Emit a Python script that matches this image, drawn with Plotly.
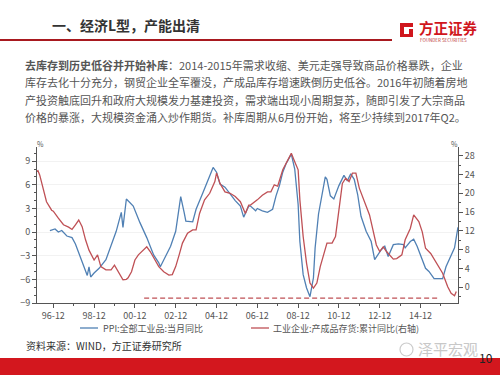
import plotly.graph_objects as go

# ---------------- data ----------------
ppi_dates = ["1996-10", "1996-11", "1997-01", "1997-03", "1997-05", "1997-08", "1997-11",
             "1998-01", "1998-04", "1998-07", "1998-08", "1998-09", "1998-10", "1998-12",
             "1999-03", "1999-07", "1999-10", "2000-01", "2000-04", "2000-05", "2000-07",
             "2000-11", "2001-03", "2001-07", "2001-11", "2002-02", "2002-03", "2002-06",
             "2002-09", "2002-12", "2003-02", "2003-03", "2003-05", "2003-06", "2003-10",
             "2003-12", "2004-04", "2004-07", "2004-10", "2004-12", "2005-02", "2005-05",
             "2005-08", "2005-11", "2006-02", "2006-04", "2006-07", "2006-08", "2006-11",
             "2006-12", "2007-03", "2007-06", "2007-09", "2007-11", "2008-01", "2008-03",
             "2008-05", "2008-08", "2008-10", "2008-12", "2009-01", "2009-03", "2009-05",
             "2009-07", "2009-09", "2009-10", "2009-12", "2010-02", "2010-04", "2010-05",
             "2010-07", "2010-09", "2010-12", "2011-03", "2011-05", "2011-07", "2011-09",
             "2011-11", "2012-01", "2012-04", "2012-07", "2012-09", "2012-11", "2013-01",
             "2013-03", "2013-05", "2013-08", "2013-11", "2014-02", "2014-03", "2014-06",
             "2014-08", "2014-10", "2015-01", "2015-03", "2015-05", "2015-08", "2015-11",
             "2016-01", "2016-03", "2016-06", "2016-08", "2016-10"]
ppi_vals = [0.2, 0.3, 0.4, 0.0, 0.2, -0.5, -0.7,
            -1.5, -3.3, -5.0, -5.5, -4.4, -5.7, -5.2,
            -4.6, -3.5, -1.8, 0.1, 2.5, 0.6, 4.2,
            3.3, 1.2, -0.7, -2.9, -3.9, -4.4, -3.1,
            -1.8, 0.1, 3.1, 4.5, 2.5, 1.4, 1.3,
            2.9, 5.0, 6.5, 8.2, 7.6, 6.1, 5.7,
            4.8, 4.0, 3.3, 1.9, 3.3, 3.3, 2.7,
            3.0, 2.7, 2.5, 2.9, 4.6, 5.9, 7.6,
            8.7, 9.9, 8.0, 3.5, -1.2, -5.4, -7.1,
            -8.2, -5.8, -2.0, 2.3, 4.8, 7.0, 6.7,
            4.6, 4.2, 5.9, 7.2, 6.5, 7.4, 6.7,
            4.8, 2.0, 0.1, -1.2, -3.5, -2.9, -2.2,
            -1.8, -3.1, -1.6, -1.5, -1.6, -2.0, -1.2,
            -0.9, -1.8, -3.5, -4.6, -5.0, -5.9, -5.9,
            -5.9, -4.4, -2.9, -2.0, 0.6]

inv_dates = ["1996-02", "1996-03", "1996-04", "1996-06", "1996-08", "1996-11", "1996-12",
             "1997-03", "1997-06", "1997-09", "1997-11", "1998-01", "1998-03", "1998-05",
             "1998-07", "1998-09", "1998-12", "1999-02", "1999-04", "1999-07", "1999-10",
             "1999-12", "2000-02", "2000-05", "2000-07", "2000-08", "2000-10", "2000-12",
             "2001-02", "2001-04", "2001-07", "2001-09", "2001-12", "2002-02", "2002-05",
             "2002-08", "2002-10", "2002-12", "2003-02", "2003-04", "2003-07", "2003-10",
             "2003-12", "2004-02", "2004-05", "2004-08", "2004-11", "2004-12", "2005-02",
             "2005-05", "2005-08", "2005-11", "2006-02", "2006-05", "2006-07", "2006-08",
             "2006-12", "2007-03", "2007-06", "2007-08", "2007-10", "2007-12", "2008-03",
             "2008-06", "2008-08", "2008-10", "2008-12", "2009-01", "2009-03", "2009-05",
             "2009-07", "2009-09", "2009-11", "2010-01", "2010-04", "2010-05", "2010-08",
             "2010-10", "2010-12", "2011-02", "2011-04", "2011-06", "2011-08", "2011-10",
             "2011-12", "2012-03", "2012-06", "2012-08", "2012-10", "2012-12", "2013-02",
             "2013-04", "2013-06", "2013-08", "2013-10", "2014-01", "2014-03", "2014-06",
             "2014-08", "2014-11", "2015-01", "2015-03", "2015-06", "2015-09", "2015-11",
             "2016-01", "2016-04", "2016-06", "2016-08", "2016-09"]
inv_vals = [24.6, 24.8, 23.9, 21.1, 18.2, 16.4, 16.2,
            14.7, 13.3, 12.8, 12.3, 13.3, 14.3, 12.9,
            10.1, 7.9, 5.8, 6.9, 4.4, 3.7, 3.7,
            4.7, 3.3, 1.6, 1.7, 2.0, 3.3, 5.8,
            6.9, 7.6, 8.6, 7.6, 5.8, 4.4, 3.3,
            2.6, 2.7, 4.4, 6.9, 9.4, 11.5, 12.2,
            12.2, 15.7, 18.6, 20.0, 22.5, 24.3, 22.1,
            20.3, 20.0, 19.3, 18.2, 15.7, 17.5, 17.5,
            18.6, 19.6, 20.3, 20.3, 21.8, 21.5, 25.0,
            27.1, 28.5, 26.7, 25.0, 18.6, 10.8, 5.1,
            0.9, -0.2, 0.9, 4.4, 7.9, 9.4, 9.4,
            10.8, 16.4, 22.1, 23.2, 22.5, 24.3, 24.3,
            21.1, 18.2, 15.4, 12.2, 9.0, 7.6, 8.6,
            7.6, 6.9, 6.0, 6.1, 6.9, 10.1, 12.5,
            15.4, 14.0, 11.8, 8.3, 7.2, 5.5, 4.4,
            3.0, 0.1, -1.3, -1.8, -0.9]

ref_dates = ["2001-05-15", "2015-10-15"]
ref_vals = [-2.3, -2.3]

x_tick_vals = ["1996-12-01", "1998-12-01", "2000-12-01", "2002-12-01", "2004-12-01",
               "2006-12-01", "2008-12-01", "2010-12-01", "2012-12-01", "2014-12-01"]
x_tick_text = ["96-12", "98-12", "00-12", "02-12", "04-12",
               "06-12", "08-12", "10-12", "12-12", "14-12"]
x_minor_vals = ["%d-12-01" % y for y in range(1996, 2016)]
left_ticks = [-9, -6, -3, 0, 3, 6, 9]
right_ticks = [0, 4, 8, 12, 16, 20, 24, 28]

name_ppi = "PPI:全部工业品:当月同比"
name_inv = "工业企业:产成品存货:累计同比(右轴)"

title_text = "一、经济L型，产能出清"
para_lines = [
    "<b>去库存到历史低谷并开始补库</b>：2014-2015年需求收缩、美元走强导致商品价格暴跌，企业",
    "库存去化十分充分，钢贸企业全军覆没，产成品库存增速跌倒历史低谷。2016年初随着房地",
    "产投资触底回升和政府大规模发力基建投资，需求端出现小周期复苏，随即引发了大宗商品",
    "价格的暴涨，大规模资金涌入炒作期货。补库周期从6月份开始，将至少持续到2017年Q2。",
]
source_text = "资料来源：WIND，方正证券研究所"

# ---------------- layout helpers ----------------
W, H = 500, 375
PL, PR, PT, PB = 37, 458, 147, 303
FONT = "Noto Sans CJK SC"
BLUE = "#5080b4"
RED = "#bf5055"
AX = "#555555"


def px(x):
    return (x - PL) / (PR - PL)


def py(y):
    return (PB - y) / (PB - PT)


fig = go.Figure()
fig.add_trace(go.Scatter(x=ppi_dates, y=ppi_vals, mode="lines", name=name_ppi,
                         line=dict(color=BLUE, width=1.3), yaxis="y"))
fig.add_trace(go.Scatter(x=inv_dates, y=inv_vals, mode="lines", name=name_inv,
                         line=dict(color=RED, width=1.3), yaxis="y2"))
fig.add_trace(go.Scatter(x=ref_dates, y=ref_vals, mode="lines", showlegend=False,
                         line=dict(color=RED, width=1.3, dash="5px,3px"), yaxis="y2"))

ann = []
shapes = []

# title and underline
ann.append(dict(text="<b>%s</b>" % title_text, x=px(50), y=py(25), xanchor="left", yanchor="middle",
                font=dict(size=14, color="#333333", family=FONT)))
shapes.append(dict(type="line", xref="paper", yref="paper", x0=px(0), x1=px(392), y0=py(40), y1=py(40),
                   line=dict(color="#a8191f", width=2)))
# logo
shapes.append(dict(type="path", xref="paper", yref="paper",
                   path="M %f %f L %f %f L %f %f L %f %f L %f %f L %f %f L %f %f L %f %f Z" % (
                       px(400), py(23), px(413), py(23), px(413), py(27), px(404), py(27),
                       px(404), py(34), px(409), py(34), px(409), py(37), px(400), py(37)),
                   fillcolor="#d0161d", line=dict(width=0)))
shapes.append(dict(type="rect", xref="paper", yref="paper", x0=px(409), x1=px(413), y0=py(37), y1=py(29),
                   fillcolor="#d0161d", line=dict(width=0)))
ann.append(dict(text="<b>方正证券</b>", x=px(417), y=py(27.5), xanchor="left", yanchor="middle",
                font=dict(size=14.5, color="#d0161d", family=FONT)))
ann.append(dict(text="FOUNDER SECURITIES", x=px(418), y=py(40), xanchor="left", yanchor="middle",
                font=dict(size=4.5, color="#b33", family=FONT)))

# paragraph
for i, line in enumerate(para_lines):
    ann.append(dict(text=line, x=px(23), y=py(64.5 + 17.5 * i), xanchor="left", yanchor="middle",
                    font=dict(size=11, color="#555555", family=FONT)))

# percent labels
ann.append(dict(text="%", x=px(40), y=py(144), xanchor="center", yanchor="middle",
                font=dict(size=7, color=AX, family=FONT)))
ann.append(dict(text="%", x=px(454), y=py(144), xanchor="center", yanchor="middle",
                font=dict(size=7, color=AX, family=FONT)))

# legend
shapes.append(dict(type="line", xref="paper", yref="paper", x0=px(80), x1=px(98), y0=py(328), y1=py(328),
                   line=dict(color=BLUE, width=1.3)))
ann.append(dict(text=name_ppi, x=px(100.5), y=py(328), xanchor="left", yanchor="middle",
                font=dict(size=9, color="#555555", family=FONT)))
shapes.append(dict(type="line", xref="paper", yref="paper", x0=px(251), x1=px(269), y0=py(328), y1=py(328),
                   line=dict(color=RED, width=1.3)))
ann.append(dict(text=name_inv, x=px(271), y=py(328), xanchor="left", yanchor="middle",
                font=dict(size=9, color="#555555", family=FONT)))

# source
ann.append(dict(text=source_text, x=px(24), y=py(345), xanchor="left", yanchor="middle",
                font=dict(size=10, color="#333333", family=FONT)))

# footer band
shapes.append(dict(type="rect", xref="paper", yref="paper", x0=px(0), x1=px(500), y0=py(358), y1=py(376),
                   fillcolor="#d3171e", line=dict(width=0), layer="below"))
# watermark
shapes.append(dict(type="circle", xref="paper", yref="paper", x0=px(400), x1=px(413), y0=py(343), y1=py(356),
                   line=dict(color="#cccccc", width=1.2)))
ann.append(dict(text="泽平宏观", x=px(416), y=py(348), xanchor="left", yanchor="middle",
                font=dict(size=15, color="#c8c8c8", family=FONT)))
ann.append(dict(text="10", x=px(486), y=py(357.5), xanchor="center", yanchor="middle",
                font=dict(size=12, color="#222222", family=FONT)))

for a in ann:
    a.update(xref="paper", yref="paper", showarrow=False)

fig.update_layout(
    width=W, height=H, autosize=False,
    margin=dict(l=PL, r=W - PR, t=PT, b=H - PB, pad=0),
    paper_bgcolor="white", plot_bgcolor="white",
    showlegend=False,
    font=dict(family=FONT, size=9, color=AX),
    xaxis=dict(type="date", range=["1996-02-13", "2016-10-02"],
               tickmode="array", tickvals=x_tick_vals, ticktext=x_tick_text,
               ticks="outside", ticklen=4, tickcolor=AX, tickwidth=1,
               showline=True, linecolor=AX, linewidth=1, showgrid=False, zeroline=False,
               tickfont=dict(size=9, color=AX, family=FONT),
               minor=dict(tickmode="array", tickvals=x_minor_vals, ticks="outside", ticklen=2,
                          tickcolor=AX, showgrid=False)),
    yaxis=dict(range=[-9, 10.8], tickmode="array", tickvals=left_ticks,
               ticks="outside", ticklen=4, tickcolor=AX,
               showline=True, linecolor=AX, linewidth=1,
               showgrid=True, gridcolor="#f2f2f2", zeroline=False,
               tickfont=dict(size=9, color=AX, family=FONT),
               minor=dict(dtick=1, tick0=0, ticks="outside", ticklen=2, tickcolor=AX, showgrid=False)),
    yaxis2=dict(range=[-3.35, 29.85], overlaying="y", side="right", tickmode="array",
                tickvals=right_ticks, ticks="outside", ticklen=4, tickcolor=AX,
                showline=True, linecolor=AX, linewidth=1, showgrid=False, zeroline=False,
                tickfont=dict(size=9, color=AX, family=FONT),
                minor=dict(dtick=2, tick0=0, ticks="outside", ticklen=2, tickcolor=AX, showgrid=False)),
    annotations=ann,
    shapes=shapes,
)

fig.write_html("out.html", config={"displayModeBar": False},
               post_script="document.body.style.margin='0';document.body.style.padding='0';"
                           "document.documentElement.style.overflow='hidden';")
